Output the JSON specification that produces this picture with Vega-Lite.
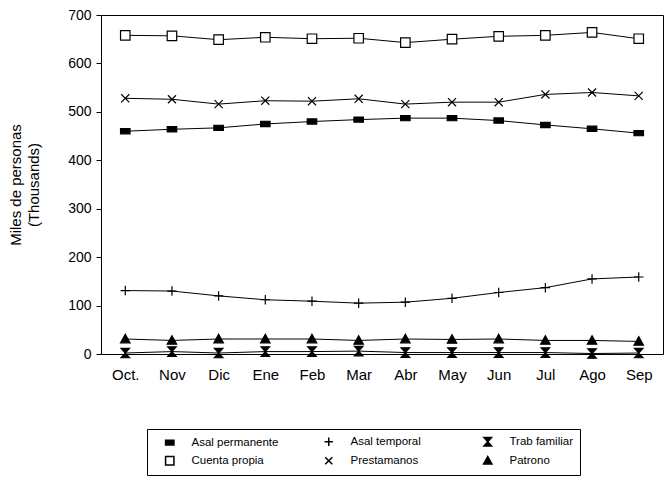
{
  "$schema": "https://vega.github.io/schema/vega-lite/v6.json",
  "autosize": "none",
  "width": 562,
  "height": 339,
  "padding": {"left": 101, "top": 15, "right": 1, "bottom": 125},
  "config": {
    "font": "Liberation Sans",
    "view": {"stroke": "black", "strokeWidth": 1},
    "axis": {"domainColor": "black", "tickColor": "black", "labelColor": "black", "titleColor": "black", "grid": false}
  },
  "data": {
    "values": [
      {"mes": "Oct.", "serie": "Asal permanente", "valor": 460},
      {"mes": "Nov", "serie": "Asal permanente", "valor": 464},
      {"mes": "Dic", "serie": "Asal permanente", "valor": 467},
      {"mes": "Ene", "serie": "Asal permanente", "valor": 475},
      {"mes": "Feb", "serie": "Asal permanente", "valor": 480},
      {"mes": "Mar", "serie": "Asal permanente", "valor": 484},
      {"mes": "Abr", "serie": "Asal permanente", "valor": 487},
      {"mes": "May", "serie": "Asal permanente", "valor": 487},
      {"mes": "Jun", "serie": "Asal permanente", "valor": 482},
      {"mes": "Jul", "serie": "Asal permanente", "valor": 473},
      {"mes": "Ago", "serie": "Asal permanente", "valor": 465},
      {"mes": "Sep", "serie": "Asal permanente", "valor": 456},
      {"mes": "Oct.", "serie": "Asal temporal", "valor": 131},
      {"mes": "Nov", "serie": "Asal temporal", "valor": 130},
      {"mes": "Dic", "serie": "Asal temporal", "valor": 120},
      {"mes": "Ene", "serie": "Asal temporal", "valor": 112},
      {"mes": "Feb", "serie": "Asal temporal", "valor": 109},
      {"mes": "Mar", "serie": "Asal temporal", "valor": 105},
      {"mes": "Abr", "serie": "Asal temporal", "valor": 107},
      {"mes": "May", "serie": "Asal temporal", "valor": 115},
      {"mes": "Jun", "serie": "Asal temporal", "valor": 127},
      {"mes": "Jul", "serie": "Asal temporal", "valor": 137},
      {"mes": "Ago", "serie": "Asal temporal", "valor": 155},
      {"mes": "Sep", "serie": "Asal temporal", "valor": 159},
      {"mes": "Oct.", "serie": "Trab familiar", "valor": 2},
      {"mes": "Nov", "serie": "Trab familiar", "valor": 5},
      {"mes": "Dic", "serie": "Trab familiar", "valor": 2},
      {"mes": "Ene", "serie": "Trab familiar", "valor": 5},
      {"mes": "Feb", "serie": "Trab familiar", "valor": 5},
      {"mes": "Mar", "serie": "Trab familiar", "valor": 6},
      {"mes": "Abr", "serie": "Trab familiar", "valor": 3},
      {"mes": "May", "serie": "Trab familiar", "valor": 3},
      {"mes": "Jun", "serie": "Trab familiar", "valor": 3},
      {"mes": "Jul", "serie": "Trab familiar", "valor": 3},
      {"mes": "Ago", "serie": "Trab familiar", "valor": 1},
      {"mes": "Sep", "serie": "Trab familiar", "valor": 2},
      {"mes": "Oct.", "serie": "Cuenta propia", "valor": 658},
      {"mes": "Nov", "serie": "Cuenta propia", "valor": 657},
      {"mes": "Dic", "serie": "Cuenta propia", "valor": 649},
      {"mes": "Ene", "serie": "Cuenta propia", "valor": 654},
      {"mes": "Feb", "serie": "Cuenta propia", "valor": 651},
      {"mes": "Mar", "serie": "Cuenta propia", "valor": 652},
      {"mes": "Abr", "serie": "Cuenta propia", "valor": 643},
      {"mes": "May", "serie": "Cuenta propia", "valor": 650},
      {"mes": "Jun", "serie": "Cuenta propia", "valor": 656},
      {"mes": "Jul", "serie": "Cuenta propia", "valor": 658},
      {"mes": "Ago", "serie": "Cuenta propia", "valor": 664},
      {"mes": "Sep", "serie": "Cuenta propia", "valor": 651},
      {"mes": "Oct.", "serie": "Prestamanos", "valor": 528},
      {"mes": "Nov", "serie": "Prestamanos", "valor": 526},
      {"mes": "Dic", "serie": "Prestamanos", "valor": 516},
      {"mes": "Ene", "serie": "Prestamanos", "valor": 523},
      {"mes": "Feb", "serie": "Prestamanos", "valor": 522},
      {"mes": "Mar", "serie": "Prestamanos", "valor": 527},
      {"mes": "Abr", "serie": "Prestamanos", "valor": 516},
      {"mes": "May", "serie": "Prestamanos", "valor": 520},
      {"mes": "Jun", "serie": "Prestamanos", "valor": 520},
      {"mes": "Jul", "serie": "Prestamanos", "valor": 536},
      {"mes": "Ago", "serie": "Prestamanos", "valor": 540},
      {"mes": "Sep", "serie": "Prestamanos", "valor": 533},
      {"mes": "Oct.", "serie": "Patrono", "valor": 31},
      {"mes": "Nov", "serie": "Patrono", "valor": 28},
      {"mes": "Dic", "serie": "Patrono", "valor": 31},
      {"mes": "Ene", "serie": "Patrono", "valor": 31},
      {"mes": "Feb", "serie": "Patrono", "valor": 31},
      {"mes": "Mar", "serie": "Patrono", "valor": 28},
      {"mes": "Abr", "serie": "Patrono", "valor": 31},
      {"mes": "May", "serie": "Patrono", "valor": 30},
      {"mes": "Jun", "serie": "Patrono", "valor": 31},
      {"mes": "Jul", "serie": "Patrono", "valor": 28},
      {"mes": "Ago", "serie": "Patrono", "valor": 28},
      {"mes": "Sep", "serie": "Patrono", "valor": 26}
    ]
  },
  "encoding": {
    "x": {
      "field": "mes", "type": "ordinal", "sort": null,
      "scale": {"type": "point", "padding": 0.52},
      "axis": {"title": null, "labelAngle": 0, "ticks": false, "labelFontSize": 15, "labelPadding": 13, "domain": false}
    },
    "y": {
      "field": "valor", "type": "quantitative",
      "scale": {"domain": [0, 700], "nice": false},
      "axis": {
        "values": [0, 100, 200, 300, 400, 500, 600, 700],
        "title": ["Miles de personas", "(Thousands)"],
        "titleFontSize": 15, "titleFontWeight": "normal", "titlePadding": 26, "titleLineHeight": 18,
        "labelFontSize": 14, "tickSize": 5, "labelPadding": 5, "domain": false
      }
    }
  },
  "layer": [
    {
      "mark": {"type": "line", "color": "black", "strokeWidth": 1},
      "encoding": {"detail": {"field": "serie"}}
    },
    {
      "mark": {"type": "point", "filled": true, "stroke": "black", "strokeWidth": 1.2, "opacity": 1, "size": 90},
      "encoding": {
        "shape": {
          "field": "serie", "type": "nominal",
          "sort": ["Asal permanente", "Asal temporal", "Trab familiar", "Cuenta propia", "Prestamanos", "Patrono"],
          "scale": {
            "domain": ["Asal permanente", "Asal temporal", "Trab familiar", "Cuenta propia", "Prestamanos", "Patrono"],
            "range": [
              "M-1,-0.55H1V0.55H-1Z",
              "M-1,0H1M0,-1V1",
              "M-0.9,-1H0.9L-0.9,1H0.9Z",
              "M-1,-1H1V1H-1Z",
              "M-0.85,-0.85L0.85,0.85M0.85,-0.85L-0.85,0.85",
              "M0,-1L1,0.8H-1Z"
            ]
          },
          "legend": {
            "title": null,
            "orient": "none",
            "legendX": 46,
            "legendY": 414,
            "direction": "horizontal",
            "columns": 3,
            "gridAlign": "all",
            "columnPadding": 34,
            "rowPadding": 4,
            "strokeColor": "black",
            "padding": 7,
            "labelFontSize": 11.5,
            "labelColor": "black",
            "labelOffset": 16,
            "symbolSize": 70,
            "symbolOffset": 10,
            "encode": {
              "symbols": {
                "update": {
                  "stroke": {"value": "black"},
                  "strokeWidth": {"value": 1.2},
                  "opacity": {"value": 1}
                }
              }
            }
          }
        },
        "fill": {
          "field": "serie", "type": "nominal",
          "sort": ["Asal permanente", "Asal temporal", "Trab familiar", "Cuenta propia", "Prestamanos", "Patrono"],
          "scale": {
            "domain": ["Asal permanente", "Asal temporal", "Trab familiar", "Cuenta propia", "Prestamanos", "Patrono"],
            "range": ["black", "black", "black", "white", "black", "black"]
          },
          "legend": null
        }
      }
    }
  ]
}
